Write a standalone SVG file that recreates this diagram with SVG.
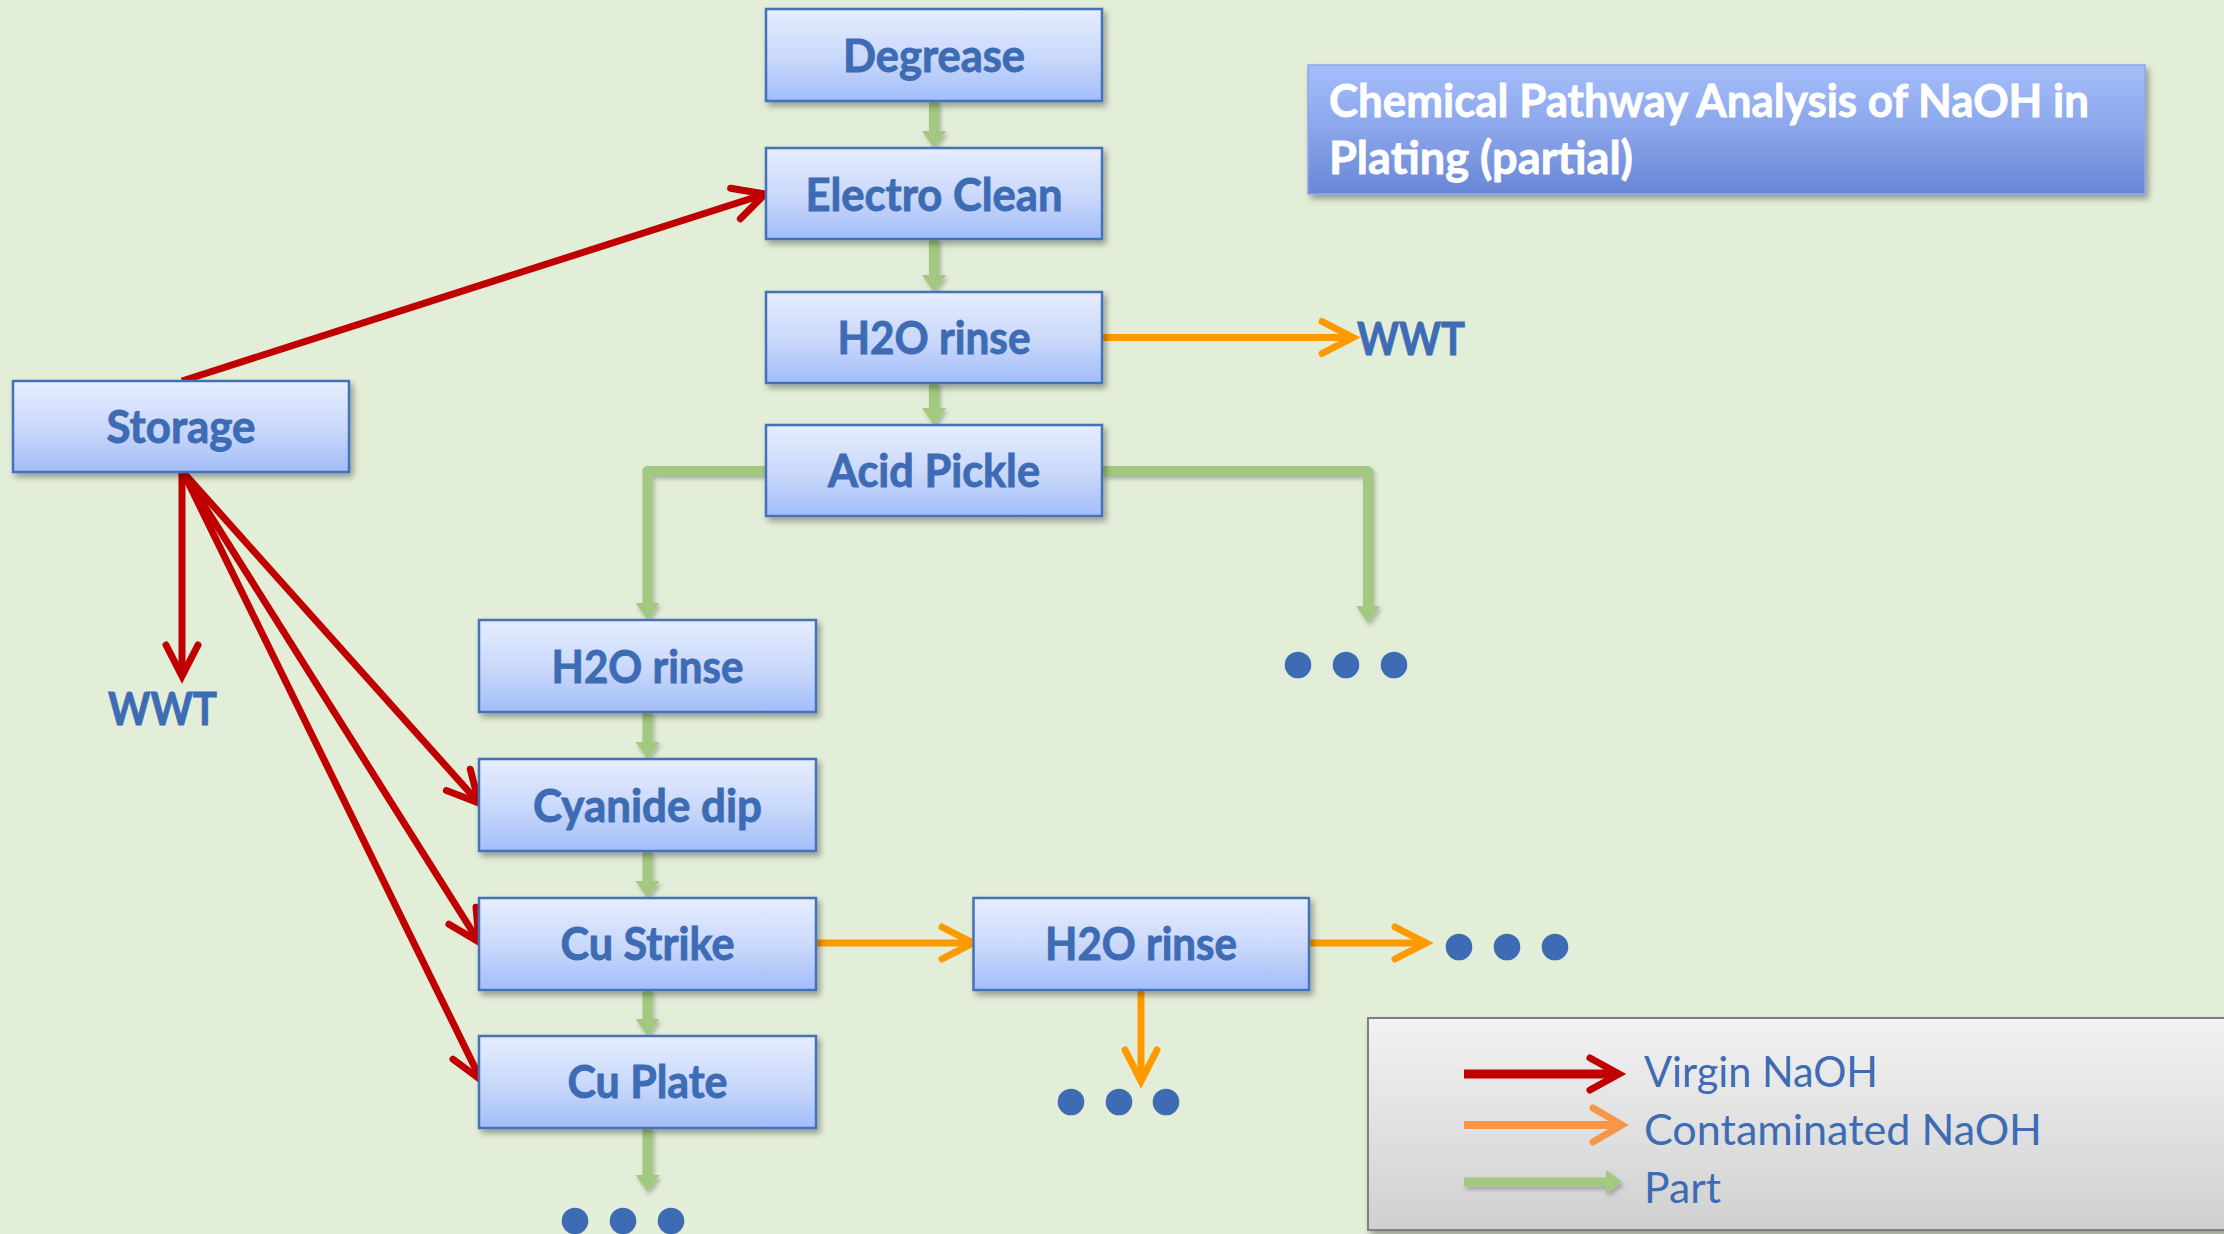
<svg xmlns="http://www.w3.org/2000/svg" width="2224" height="1234" viewBox="0 0 2224 1234">
  <defs>
    <linearGradient id="nodeFill" x1="0" y1="0" x2="0" y2="1">
      <stop offset="0" stop-color="#E6EDFE"/>
      <stop offset="0.55" stop-color="#C8D7FB"/>
      <stop offset="1" stop-color="#A2BDF9"/>
    </linearGradient>
    <linearGradient id="titleFill" x1="0" y1="0" x2="0" y2="1">
      <stop offset="0" stop-color="#A5BEFB"/>
      <stop offset="0.5" stop-color="#8AA5EA"/>
      <stop offset="1" stop-color="#6886D6"/>
    </linearGradient>
    <linearGradient id="legendFill" x1="0" y1="0" x2="0" y2="1">
      <stop offset="0" stop-color="#F2F2F2"/>
      <stop offset="1" stop-color="#D0D0D0"/>
    </linearGradient>
    <filter id="shadow" x="-10%" y="-20%" width="125%" height="150%">
      <feDropShadow dx="3" dy="4" stdDeviation="3" flood-color="#000" flood-opacity="0.35"/>
    </filter>
    <filter id="lineShadow" x="-20%" y="-20%" width="140%" height="140%">
      <feDropShadow dx="2" dy="3" stdDeviation="2" flood-color="#000" flood-opacity="0.25"/>
    </filter>
    <!-- open chevron heads, tip sits at the line end -->
    <marker id="chevRed" markerUnits="userSpaceOnUse" viewBox="-40 -25 50 50" markerWidth="50" markerHeight="50" refX="0" refY="0" orient="auto" overflow="visible">
      <path d="M-31,-16 L0,0 L-31,16" fill="none" stroke="#C00000" stroke-width="7" stroke-linecap="round" stroke-linejoin="miter"/>
    </marker>
    <marker id="chevOrange" markerUnits="userSpaceOnUse" viewBox="-40 -25 50 50" markerWidth="50" markerHeight="50" refX="0" refY="0" orient="auto" overflow="visible">
      <path d="M-31,-16 L0,0 L-31,16" fill="none" stroke="#FF9900" stroke-width="7" stroke-linecap="round" stroke-linejoin="miter"/>
    </marker>
    <!-- solid triangle head for part flow, base at line end -->
    <marker id="triGreen" markerUnits="userSpaceOnUse" viewBox="0 -12 17 24" markerWidth="17" markerHeight="24" refX="1" refY="0" orient="auto" overflow="visible">
      <path d="M0,-12 L17,0 L0,12 Z" fill="#A2C97F"/>
    </marker>
    <style>
      .node rect { fill: url(#nodeFill); stroke: #4372B8; stroke-width: 2.5; }
      .label { font-family: Lato, "Open Sans", sans-serif; font-weight: bold; font-size: 45px; fill: #3D6CB4; stroke: #3D6CB4; stroke-width: 0.9; text-anchor: middle; }
      .sink { font-family: Lato, "Open Sans", sans-serif; font-weight: bold; font-size: 45px; fill: #3D6CB4; stroke: #3D6CB4; stroke-width: 0.9; }
      .virgin { fill: none; stroke: #C00000; stroke-width: 7; marker-end: url(#chevRed); }
      .contam { fill: none; stroke: #FF9900; stroke-width: 7; marker-end: url(#chevOrange); }
      .part { fill: none; stroke: #A2C97F; stroke-width: 10; stroke-linejoin: round; marker-end: url(#triGreen); }
      .dot { fill: #3D6CB4; }
      .title { font-family: Lato, "Open Sans", sans-serif; font-weight: bold; font-size: 45px; fill: #FFFFFF; stroke: #FFFFFF; stroke-width: 0.8; }
      .legendText { font-family: Lato, "Open Sans", sans-serif; font-size: 43px; fill: #3D6CB4; }
    </style>
  </defs>

  <rect x="0" y="0" width="2224" height="1234" fill="#E3EED9"/>

  <!-- connectors -->
  <g id="connectors">
    <g filter="url(#lineShadow)">
      <path class="part" d="M934,101 V132"/>
      <path class="part" d="M934,239 V276"/>
      <path class="part" d="M934,383 V409"/>
      <path class="part" d="M766,471 H647.5 V604"/>
      <path class="part" d="M1102,471 H1368 V607"/>
      <path class="part" d="M647.5,712 V743"/>
      <path class="part" d="M647.5,851 V882"/>
      <path class="part" d="M647.5,990 V1020"/>
      <path class="part" d="M647.5,1128 V1176"/>
    </g>
    <path class="virgin" d="M182,381 L765,194"/>
    <path class="virgin" d="M182,472 L182,676"/>
    <path class="virgin" d="M183,472 L479,803"/>
    <path class="virgin" d="M183,472 L479,942"/>
    <path class="virgin" d="M183,472 L481,1080"/>
    <path class="contam" d="M1102,337.5 L1353,337.5"/>
    <path class="contam" d="M816,943 L973,943"/>
    <path class="contam" d="M1309,943 L1426,943"/>
    <path class="contam" d="M1141,990 L1141,1081"/>
  </g>

  <!-- process steps -->
  <g id="degrease" class="node">
    <rect x="766" y="9" width="336" height="92" filter="url(#shadow)"/>
    <text class="label" x="934" y="72" textLength="182" lengthAdjust="spacingAndGlyphs">Degrease</text>
  </g>
  <g id="electro-clean" class="node">
    <rect x="766" y="148" width="336" height="91" filter="url(#shadow)"/>
    <text class="label" x="934" y="211" textLength="257" lengthAdjust="spacingAndGlyphs">Electro Clean</text>
  </g>
  <g id="rinse-1" class="node">
    <rect x="766" y="292" width="336" height="91" filter="url(#shadow)"/>
    <text class="label" x="934" y="354" textLength="193" lengthAdjust="spacingAndGlyphs">H2O rinse</text>
  </g>
  <g id="acid-pickle" class="node">
    <rect x="766" y="425" width="336" height="91" filter="url(#shadow)"/>
    <text class="label" x="934" y="487" textLength="212" lengthAdjust="spacingAndGlyphs">Acid Pickle</text>
  </g>
  <g id="storage" class="node">
    <rect x="13" y="381" width="336" height="91" filter="url(#shadow)"/>
    <text class="label" x="181" y="443" textLength="149" lengthAdjust="spacingAndGlyphs">Storage</text>
  </g>
  <g id="rinse-2" class="node">
    <rect x="479" y="620" width="337" height="92" filter="url(#shadow)"/>
    <text class="label" x="647.5" y="683" textLength="192" lengthAdjust="spacingAndGlyphs">H2O rinse</text>
  </g>
  <g id="cyanide-dip" class="node">
    <rect x="479" y="759" width="337" height="92" filter="url(#shadow)"/>
    <text class="label" x="647.5" y="822" textLength="229" lengthAdjust="spacingAndGlyphs">Cyanide dip</text>
  </g>
  <g id="cu-strike" class="node">
    <rect x="479" y="898" width="337" height="92" filter="url(#shadow)"/>
    <text class="label" x="647.5" y="960" textLength="174" lengthAdjust="spacingAndGlyphs">Cu Strike</text>
  </g>
  <g id="cu-plate" class="node">
    <rect x="479" y="1036" width="337" height="92" filter="url(#shadow)"/>
    <text class="label" x="647.5" y="1098" textLength="160" lengthAdjust="spacingAndGlyphs">Cu Plate</text>
  </g>
  <g id="rinse-3" class="node">
    <rect x="973.5" y="898" width="335.5" height="92" filter="url(#shadow)"/>
    <text class="label" x="1141" y="960" textLength="192" lengthAdjust="spacingAndGlyphs">H2O rinse</text>
  </g>

  <!-- waste water treatment sinks -->
  <g id="wwt-rinse">
    <text class="sink" x="1357" y="355" textLength="108" lengthAdjust="spacingAndGlyphs">WWT</text>
  </g>
  <g id="wwt-storage">
    <text class="sink" x="108" y="725" textLength="109" lengthAdjust="spacingAndGlyphs">WWT</text>
  </g>

  <!-- continuation marks -->
  <g id="more-acid">
    <circle class="dot" cx="1298" cy="665" r="13.3"/>
    <circle class="dot" cx="1346" cy="665" r="13.3"/>
    <circle class="dot" cx="1394" cy="665" r="13.3"/>
  </g>
  <g id="more-rinse-right">
    <circle class="dot" cx="1459" cy="947" r="13.3"/>
    <circle class="dot" cx="1507" cy="947" r="13.3"/>
    <circle class="dot" cx="1555" cy="947" r="13.3"/>
  </g>
  <g id="more-rinse-down">
    <circle class="dot" cx="1071" cy="1102" r="13.3"/>
    <circle class="dot" cx="1119" cy="1102" r="13.3"/>
    <circle class="dot" cx="1166" cy="1102" r="13.3"/>
  </g>
  <g id="more-plate">
    <circle class="dot" cx="575" cy="1221" r="13.3"/>
    <circle class="dot" cx="623" cy="1221" r="13.3"/>
    <circle class="dot" cx="671" cy="1221" r="13.3"/>
  </g>

  <!-- title -->
  <g id="title">
    <rect x="1308" y="65" width="837" height="129" fill="url(#titleFill)" stroke="#8DA6E8" stroke-width="1.5" filter="url(#shadow)"/>
    <text class="title" x="1329" y="117" textLength="760" lengthAdjust="spacingAndGlyphs">Chemical Pathway Analysis of NaOH in</text>
    <text class="title" x="1329" y="174" textLength="304" lengthAdjust="spacingAndGlyphs">Plating (partial)</text>
  </g>

  <!-- legend -->
  <g id="legend">
    <rect x="1368" y="1018" width="870" height="212" fill="url(#legendFill)" stroke="#808080" stroke-width="2" filter="url(#shadow)"/>
    <path d="M1464,1074 H1617" stroke="#C00000" stroke-width="9" fill="none"/>
    <path d="M1590,1058 L1619,1074 L1590,1090" stroke="#C00000" stroke-width="7" fill="none" stroke-linecap="round"/>
    <path d="M1464,1125 H1620" stroke="#F79646" stroke-width="8" fill="none"/>
    <path d="M1593,1108 L1622,1125 L1593,1142" stroke="#F79646" stroke-width="7" fill="none" stroke-linecap="round"/>
    <g filter="url(#lineShadow)">
      <path d="M1464,1182 H1607" stroke="#A2C97F" stroke-width="9" fill="none"/>
      <path d="M1606,1170 L1622,1182 L1606,1194 Z" fill="#A2C97F"/>
    </g>
    <text class="legendText" x="1644" y="1087" textLength="234" lengthAdjust="spacingAndGlyphs">Virgin NaOH</text>
    <text class="legendText" x="1644" y="1145" textLength="398" lengthAdjust="spacingAndGlyphs">Contaminated NaOH</text>
    <text class="legendText" x="1644" y="1203" textLength="77" lengthAdjust="spacingAndGlyphs">Part</text>
  </g>
</svg>
